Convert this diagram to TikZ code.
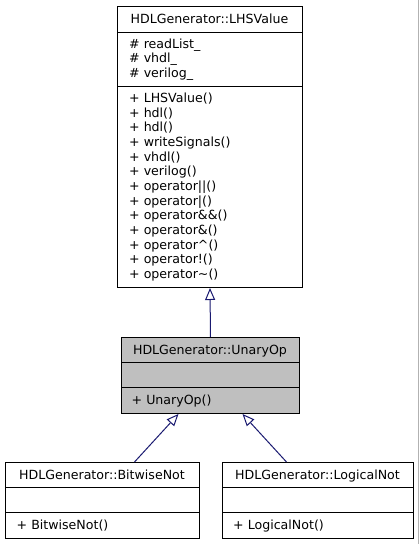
\documentclass[tikz,border=0pt]{standalone}
\usepackage{fontspec}
\setmainfont{DejaVu Sans}
\usetikzlibrary{arrows.meta,calc}
\definecolor{edgeblue}{RGB}{25,25,112}
\definecolor{curfill}{RGB}{191,191,191}
\tikzset{
  classbox/.style={draw=black, line width=1pt, fill=white, inner sep=0pt, anchor=north west},
  curbox/.style={classbox, fill=curfill},
  sepline/.style={draw=black, line width=1pt},
  txt/.style={font=\fontsize{12.6pt}{14.67pt}\selectfont, inner sep=0pt, text=black},
  member/.style={txt, anchor=base west},
  title/.style={txt, anchor=base},
  inh/.style={draw=edgeblue, line width=1pt, -{Triangle[open, length=12pt, width=10pt, fill=white]}},
}
\begin{document}
\begin{tikzpicture}[x=1pt, y=-1pt]
\useasboundingbox (0,0) rectangle (419,544);
\fill[white] (0,0) rectangle (419,544);
\draw[gray!60, line width=1pt] (418.5,0) -- (418.5,544);

% LHSValue
\node[classbox, minimum width=185pt, minimum height=281pt] (lhs) at (117,6) {};
\draw[sepline] (117,32) -- (302,32);
\draw[sepline] (117,86) -- (302,86);
\node[title] (lhst) at (209.5,23.6) {HDLGenerator::LHSValue};
\foreach \t [count=\i from 0] in {{\# readList\_},{\# vhdl\_},{\# verilog\_}}
  \node[member] (lhsa\i) at (129,48.2+\i*14.67) {\t};
\foreach \t [count=\i from 0] in {{+ LHSValue()},{+ hdl()},{+ hdl()},{+ writeSignals()},{+ vhdl()},{+ verilog()},{+ operator||()},{+ operator|()},{+ operator\&\&()},{+ operator\&()},{+ operator\textasciicircum()},{+ operator!()},{+ operator\textasciitilde()}}
  \node[member] (lhsm\i) at (129,102.6+\i*14.67) {\t};

% UnaryOp
\node[curbox, minimum width=178pt, minimum height=76pt] (un) at (121,337) {};
\draw[sepline] (121,362) -- (299,362);
\draw[sepline] (121,387) -- (299,387);
\node[title] (unt) at (210,354.1) {HDLGenerator::UnaryOp};
\node[member] (unm) at (131.5,404.6) {+ UnaryOp()};

% BitwiseNot
\node[classbox, minimum width=194pt, minimum height=76pt] (bw) at (5,462) {};
\draw[sepline] (5,487) -- (199,487);
\draw[sepline] (5,512) -- (199,512);
\node[title] (bwt) at (102,479.1) {HDLGenerator::BitwiseNot};
\node[member] (bwm) at (16.5,529.6) {+ BitwiseNot()};

% LogicalNot
\node[classbox, minimum width=191pt, minimum height=76pt] (ln) at (222,462) {};
\draw[sepline] (222,487) -- (413,487);
\draw[sepline] (222,512) -- (413,512);
\node[title] (lnt) at (317.5,479.1) {HDLGenerator::LogicalNot};
\node[member] (lnm) at (233,529.6) {+ LogicalNot()};

% inheritance
\draw[inh] (un.north) -- (lhs.south);
\draw[inh] ($(bw.north)+(32,0)$) -- ($(un.south)+(-32,0)$);
\draw[inh] ($(ln.north)+(-31.5,0)$) -- ($(un.south)+(32,0)$);
\end{tikzpicture}
\end{document}
